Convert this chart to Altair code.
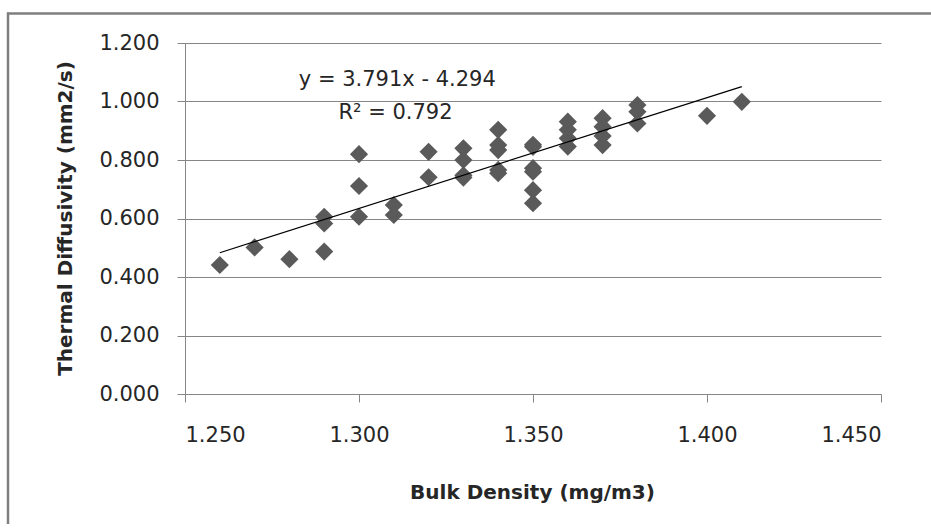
import altair as alt
import pandas as pd

# Data
bulk_density = [1.26, 1.27, 1.28,
                1.29, 1.29, 1.29,
                1.30, 1.30, 1.30,
                1.31, 1.31,
                1.32, 1.32,
                1.33, 1.33, 1.33, 1.33,
                1.34, 1.34, 1.34, 1.34, 1.34,
                1.35, 1.35, 1.35, 1.35, 1.35, 1.35,
                1.36, 1.36, 1.36, 1.36,
                1.37, 1.37, 1.37, 1.37,
                1.38, 1.38, 1.38,
                1.40, 1.41]
thermal_diffusivity = [0.441, 0.501, 0.461,
                       0.606, 0.583, 0.487,
                       0.820, 0.711, 0.606,
                       0.646, 0.612,
                       0.828, 0.741,
                       0.840, 0.800, 0.748, 0.740,
                       0.903, 0.851, 0.834, 0.766, 0.755,
                       0.852, 0.845, 0.772, 0.760, 0.697, 0.652,
                       0.931, 0.903, 0.874, 0.846,
                       0.943, 0.914, 0.882, 0.851,
                       0.988, 0.965, 0.925,
                       0.951, 0.999]

# Linear trendline end points (as drawn in the reference)
trend_x = [1.26, 1.41]
trend_y = [0.483, 1.051]

x_ticks = [1.25, 1.30, 1.35, 1.40, 1.45]
y_ticks = [0.0, 0.2, 0.4, 0.6, 0.8, 1.0, 1.2]

annotation_text = ["y = 3.791x - 4.294", "R² = 0.792"]

points_df = pd.DataFrame({"x": bulk_density, "y": thermal_diffusivity})
trend_df = pd.DataFrame({"x": trend_x, "y": trend_y})
one_row = pd.DataFrame({"k": [0]})

FONT = "DejaVu Sans"
GRAY = "#868686"
TEXT = "#262626"

x_scale = alt.Scale(domain=[1.25, 1.45], nice=False, zero=False)
y_scale = alt.Scale(domain=[0, 1.2], nice=False, zero=True)

x_axis = alt.Axis(
    title="Bulk Density (mg/m3)", values=x_ticks, format=".3f", grid=False,
    tickSize=8, labelPadding=22, labelFontSize=21,
    titleFontSize=20, titleFontWeight="bold", titleX=347, titleY=98,
    titleAlign="center", titleBaseline="middle",
)
y_axis = alt.Axis(
    title="Thermal Diffusivity (mm2/s)", values=y_ticks, format=".3f", grid=True,
    tickSize=8, labelPadding=18, labelFontSize=21,
    titleFontSize=20, titleFontWeight="bold", titleX=-120, titleY=175,
    titleAlign="center", titleBaseline="middle", titleAngle=-90,
)

x_enc = alt.X("x:Q", scale=x_scale, axis=x_axis)
y_enc = alt.Y("y:Q", scale=y_scale, axis=y_axis)

# Outer chart frame (only its top and left edges fall inside the picture)
frame_top = alt.Chart(one_row).mark_rule(color="#7f7f7f", strokeWidth=2.5).encode(
    x=alt.value(-178), x2=alt.value(1000), y=alt.value(-29.5)
)
frame_left = alt.Chart(one_row).mark_rule(color="#7f7f7f", strokeWidth=2.5).encode(
    x=alt.value(-177), y=alt.value(-30.5), y2=alt.value(700)
)

points = alt.Chart(points_df).mark_point(
    shape="diamond", filled=True, size=330, color="#5a5a5a", opacity=1
).encode(x=x_enc, y=y_enc)

trend = alt.Chart(trend_df).mark_line(color="#000000", strokeWidth=1.2).encode(
    x=x_enc, y=y_enc
)

ann1 = alt.Chart(one_row).mark_text(
    font=FONT, fontSize=21, color=TEXT, align="center", baseline="middle"
).encode(x=alt.X(datum=1.311, scale=x_scale), y=alt.Y(datum=1.075, scale=y_scale),
         text=alt.value(annotation_text[0]))

ann2 = alt.Chart(one_row).mark_text(
    font=FONT, fontSize=21, color=TEXT, align="center", baseline="middle"
).encode(x=alt.X(datum=1.3105, scale=x_scale), y=alt.Y(datum=0.962, scale=y_scale),
         text=alt.value(annotation_text[1]))

chart = alt.layer(frame_top, frame_left, points, trend, ann1, ann2).properties(
    width=696, height=351,
    padding={"left": 185, "top": 43, "right": 50, "bottom": 130},
    autosize=alt.AutoSizeParams(type="none"),
    background="white",
).configure_view(stroke=None).configure_axis(
    domainColor=GRAY, tickColor=GRAY, gridColor=GRAY, gridWidth=1,
    domainWidth=1, tickWidth=1,
    labelFont=FONT, titleFont=FONT, labelColor=TEXT, titleColor=TEXT,
)

chart.save("out.html", embed_options={"renderer": "svg", "actions": False})
